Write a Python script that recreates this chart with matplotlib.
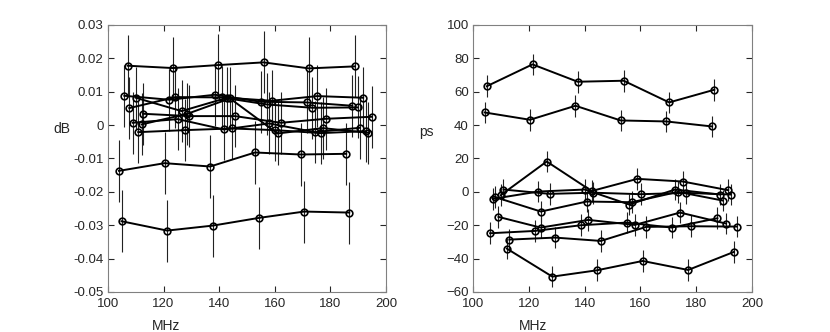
import matplotlib
matplotlib.use("Agg")
import matplotlib.pyplot as plt

# ---------------- data: left panel (dB) ----------------
dB_x = [
    [107.1, 123.4, 139.7, 156.0, 172.3, 188.8],
    [104.0, 120.4, 136.8, 152.9, 169.3, 185.7],
    [104.9, 121.3, 137.8, 154.3, 170.6, 186.8],
    [105.9, 122.1, 138.5, 155.0, 171.5, 187.9],
    [107.7, 124.3, 140.9, 157.1, 173.5, 189.8],
    [108.9, 125.1, 141.7, 158.0, 174.5, 190.6],
    [110.0, 126.5, 142.9, 158.9, 175.3, 191.8],
    [110.9, 127.7, 144.5, 160.1, 176.6, 192.7],
    [112.1, 128.6, 143.9, 161.0, 177.3, 193.7],
    [112.7, 129.3, 145.7, 162.2, 178.4, 194.9],
]
dB_y = [
    [0.0178, 0.0171, 0.0180, 0.0188, 0.0170, 0.0176],
    [-0.0137, -0.0114, -0.0124, -0.0082, -0.0088, -0.0086],
    [-0.0288, -0.0316, -0.0301, -0.0278, -0.0259, -0.0262],
    [0.0088, 0.0076, 0.0091, 0.0070, 0.0068, 0.0058],
    [0.0051, 0.0084, 0.0083, 0.0062, 0.0052, 0.0053],
    [0.0007, 0.0018, -0.0013, 0.0005, -0.0021, -0.0008],
    [0.0082, 0.0042, 0.0082, 0.0073, 0.0087, 0.0082],
    [-0.0021, -0.0015, -0.0010, -0.0015, -0.0024, -0.0018],
    [0.0002, 0.0034, 0.0080, -0.0025, -0.0009, -0.0023],
    [0.0034, 0.0027, 0.0027, 0.0007, 0.0019, 0.0025],
]
dB_err = 0.0093

# ---------------- data: right panel (ps) ----------------
ps_x = [
    [104.9, 121.3, 137.5, 154.0, 170.3, 186.5],
    [104.1, 120.4, 136.7, 152.9, 169.3, 185.7],
    [112.1, 128.4, 144.4, 160.8, 177.1, 193.5],
    [109.1, 124.2, 141.3, 158.0, 174.2, 190.7],
    [106.1, 122.2, 138.6, 155.1, 171.2, 187.6],
    [113.0, 129.4, 145.8, 162.0, 178.0, 194.5],
    [107.1, 123.4, 140.1, 156.0, 172.4, 188.5],
    [108.0, 124.3, 140.7, 156.9, 173.5, 189.5],
    [109.9, 126.4, 142.5, 158.9, 175.2, 191.5],
    [110.9, 127.4, 143.1, 160.1, 176.3, 192.4],
]
ps_y = [
    [63.3, 76.4, 66.0, 66.6, 53.6, 61.2],
    [47.6, 43.2, 51.6, 42.8, 42.2, 39.2],
    [-34.0, -50.8, -47.0, -41.4, -46.8, -36.0],
    [-15.0, -21.4, -16.8, -19.8, -12.4, -19.0],
    [-24.8, -23.4, -20.0, -18.4, -21.4, -15.8],
    [-28.6, -27.4, -29.4, -21.0, -20.6, -20.8],
    [-4.2, 0.2, 1.4, -7.6, 1.4, -1.6],
    [-3.2, -11.8, -5.8, -6.2, 0.0, -5.2],
    [-2.0, 18.2, 0.5, 7.8, 6.2, 1.0],
    [1.4, -1.2, -0.5, -1.4, -0.6, -1.6],
]
ps_err = 6.5

x_ticks = [100, 120, 140, 160, 180, 200]
dB_ticks = [0.03, 0.02, 0.01, 0, -0.01, -0.02, -0.03, -0.04, -0.05]
dB_ticklabels = ["0.03", "0.02", "0.01", "0", "-0.01", "-0.02", "-0.03", "-0.04", "-0.05"]
ps_ticks = [100, 80, 60, 40, 20, 0, -20, -40, -60]

plt.rcParams['font.family'] = ['Liberation Sans', 'DejaVu Sans']

fig = plt.figure(figsize=(8.3, 3.32), dpi=100)
axL = fig.add_axes([0.130, 0.1205, 0.335, 0.8042])
axR = fig.add_axes([0.570, 0.1205, 0.336, 0.8042])

spine_col = '#262626'

def draw(ax, xs, ys, err):
    for x, y in zip(xs, ys):
        ax.errorbar(x, y, yerr=err, color='black', ecolor='#222222',
                    elinewidth=0.8, capsize=0, lw=1.4, marker='o',
                    markersize=4.8, markerfacecolor='none',
                    markeredgecolor='black', markeredgewidth=1.2)

def style(ax):
    ax.set_xlim(100, 200)
    ax.set_xticks(x_ticks)
    ax.tick_params(direction='in', top=True, right=True, length=4,
                   width=0.8, colors=spine_col, labelsize=9.5)
    ax.tick_params(axis='x', pad=4)
    ax.tick_params(axis='y', pad=3)
    for s in ax.spines.values():
        s.set_color('#808080')
        s.set_linewidth(0.8)

draw(axL, dB_x, dB_y, dB_err)
style(axL)
axL.set_ylim(-0.05, 0.03)
axL.set_yticks(dB_ticks)
axL.set_yticklabels(dB_ticklabels)
axL.text(-0.165, 0.61, "dB", transform=axL.transAxes, ha='center', va='center',
         fontsize=10, color=spine_col)
axL.text(0.21, -0.128, "MHz", transform=axL.transAxes, ha='center', va='center',
         fontsize=10, color=spine_col)

draw(axR, ps_x, ps_y, ps_err)
style(axR)
axR.set_ylim(-60, 100)
axR.set_yticks(ps_ticks)
axR.text(-0.168, 0.60, "ps", transform=axR.transAxes, ha='center', va='center',
         fontsize=10, color=spine_col)
axR.text(0.215, -0.128, "MHz", transform=axR.transAxes, ha='center', va='center',
         fontsize=10, color=spine_col)

fig.savefig("out.png", dpi=100)
